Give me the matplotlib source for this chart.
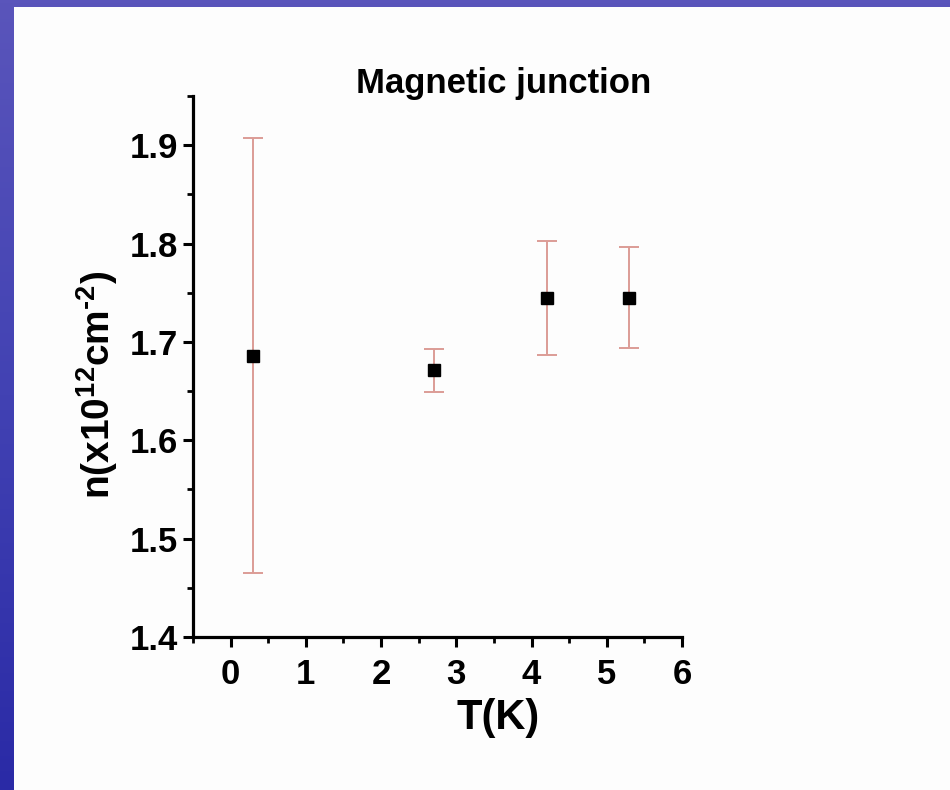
import numpy as np
import matplotlib
matplotlib.use("Agg")
import matplotlib.pyplot as plt
from matplotlib.patches import Rectangle
from matplotlib.ticker import MultipleLocator

plt.rcParams['font.family'] = ['Liberation Sans', 'DejaVu Sans']
plt.rcParams['font.weight'] = 'bold'
plt.rcParams['mathtext.fontset'] = 'custom'
plt.rcParams['mathtext.rm'] = 'Liberation Sans:bold'
plt.rcParams['mathtext.it'] = 'Liberation Sans:bold'
plt.rcParams['mathtext.bf'] = 'Liberation Sans:bold'
plt.rcParams['mathtext.default'] = 'rm'

# Carrier density vs temperature
temperature = [0.3, 2.7, 4.2, 5.3]
density = [1.686, 1.671, 1.745, 1.745]
density_err = [0.221, 0.022, 0.058, 0.051]

x_ticks = [0, 1, 2, 3, 4, 5, 6]
y_ticks = [1.4, 1.5, 1.6, 1.7, 1.8, 1.9]

W, H = 950, 790
fig = plt.figure(figsize=(W / 100, H / 100), dpi=100)

# slide background: blue gradient frame with white content area
bg = fig.add_axes([0, 0, 1, 1])
bg.set_axis_off()
grad = np.linspace(0, 1, 256).reshape(-1, 1)
cmap = matplotlib.colors.LinearSegmentedColormap.from_list(
    'slide', ['#5a55bb', '#4242b3', '#2a2aa6'])
bg.imshow(grad, aspect='auto', cmap=cmap, extent=[0, 1, 0, 1], origin='upper')
bg.add_patch(Rectangle((14 / W, 0), 1 - 14 / W, 1 - 7 / H,
                       facecolor='#fdfdfd', edgecolor='none',
                       transform=bg.transAxes))
bg.set_xlim(0, 1)
bg.set_ylim(0, 1)

ax = fig.add_axes([193 / W, 1 - 637 / H, (682 - 193) / W, (637 - 96) / H])
ax.patch.set_alpha(0)

ax.errorbar(temperature, density, yerr=density_err, fmt='none',
            ecolor='#dc9c96', elinewidth=1.4, capsize=7, capthick=1.4,
            zorder=2)
ax.plot(temperature, density, linestyle='none', marker='s', markersize=8.5,
        color='black', zorder=3)

ax.set_xlim(-0.5, 6)
ax.set_ylim(1.4, 1.95)
ax.set_xticks(x_ticks)
ax.set_yticks(y_ticks)
ax.xaxis.set_minor_locator(MultipleLocator(0.5))
ax.yaxis.set_minor_locator(MultipleLocator(0.05))

for side in ('top', 'right'):
    ax.spines[side].set_visible(False)
for side in ('left', 'bottom'):
    ax.spines[side].set_linewidth(2.3)

ax.tick_params(which='major', direction='out', length=7, width=2.2,
               labelsize=25)
ax.tick_params(which='minor', direction='out', length=4.5, width=2.0)
ax.tick_params(axis='x', which='major', pad=8)
ax.tick_params(axis='y', which='major', pad=3.5)
for lab in ax.get_xticklabels() + ax.get_yticklabels():
    lab.set_fontweight('bold')

fig.text(504 / W, 1 - 83 / H, 'Magnetic junction', fontsize=25,
         fontweight='bold', ha='center', va='center')
fig.text(498 / W, 1 - 718 / H, 'T(K)', fontsize=30, fontweight='bold',
         ha='center', va='center')
fig.text(97 / W, 1 - 385 / H, 'n(x10$^{12}$cm$^{\u20102}$)', fontsize=28,
         fontweight='bold', ha='center', va='center', rotation=90)

fig.savefig('out.png', dpi=100)
